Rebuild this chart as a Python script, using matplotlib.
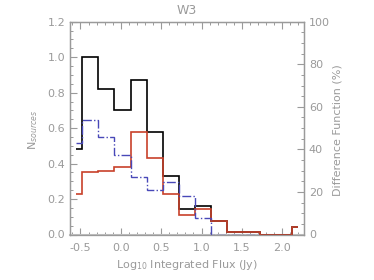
import matplotlib
matplotlib.use("Agg")
import matplotlib.pyplot as plt
import numpy as np
from matplotlib.ticker import MultipleLocator

# bin edges in log10 flux (Jy)
edges = [-0.55, -0.48, -0.28, -0.08, 0.12, 0.32, 0.52, 0.72, 0.92, 1.12,
         1.32, 1.52, 1.72, 1.92, 2.12, 2.2]

# N_sources histograms
black_vals = [0.48, 1.0, 0.82, 0.70, 0.87, 0.58, 0.33, 0.145, 0.16, 0.078,
              0.015, 0.015, 0.0, 0.0, 0.044]
red_vals = [0.23, 0.35, 0.36, 0.38, 0.58, 0.43, 0.23, 0.11, 0.145, 0.078,
            0.015, 0.015, 0.0, 0.0, 0.044]

# difference function (%), stops at 1.72
blue_vals = [43, 54, 46, 37.5, 27, 21, 24.5, 18.2, 7.9, 0, 0, 0]

gray = "#9a9a9a"
fs = 8

fig = plt.figure(figsize=(3.74, 2.80), dpi=100)
ax = fig.add_axes([70/374, 1-234.5/280, 234/374, 212.8/280])
ax2 = ax.twinx()

ax.stairs(black_vals, edges, baseline=None, color="black", lw=1.2, zorder=3)
ax.stairs(red_vals, edges, baseline=None, color="#c8412a", lw=1.2, zorder=4)
ax2.stairs(blue_vals, edges[:len(blue_vals)+1], baseline=None,
           color="#4848b8", lw=1.0, ls="-.")

ax.set_xlim(-0.63, 2.27)
ax.set_ylim(0, 1.2)
ax2.set_ylim(0, 100)

ax.xaxis.set_major_locator(MultipleLocator(0.5))
ax.xaxis.set_minor_locator(MultipleLocator(0.1))
ax.yaxis.set_major_locator(MultipleLocator(0.2))
ax.yaxis.set_minor_locator(MultipleLocator(0.05))
ax2.yaxis.set_major_locator(MultipleLocator(20))
ax2.yaxis.set_minor_locator(MultipleLocator(5))
ax.yaxis.set_major_formatter(plt.FormatStrFormatter("%.1f"))
ax.xaxis.set_major_formatter(plt.FormatStrFormatter("%.1f"))

for a in (ax, ax2):
    for s in a.spines.values():
        s.set_color(gray)
        s.set_linewidth(0.9)
ax.spines["bottom"].set_linewidth(1.5)
ax.spines["bottom"].set_color("#c0c0c0")

ax.tick_params(axis="both", which="both", direction="in", colors=gray,
               labelsize=fs, top=True, right=False)
ax.tick_params(axis="both", which="major", length=5, width=0.8)
ax.tick_params(axis="both", which="minor", length=2.5, width=0.7)
ax.tick_params(axis="x", which="major", pad=6)
ax2.tick_params(axis="y", which="both", direction="in", colors=gray,
                labelsize=fs)
ax2.tick_params(axis="y", which="major", length=5, width=0.8)
ax2.tick_params(axis="y", which="minor", length=2.5, width=0.7)

ax.set_xlabel("Log$_{10}$ Integrated Flux (Jy)", fontsize=fs, color=gray)
ax.xaxis.set_label_coords(0.5, -0.145)
ax.xaxis.label.set_va("center")
ax.set_ylabel("N$_{sources}$", fontsize=fs, color=gray)
ax.yaxis.set_label_coords(-0.158, 0.49)
ax.yaxis.label.set_va("center")
ax2.set_ylabel("Difference Function (%)", fontsize=fs, color=gray)
ax2.yaxis.set_label_coords(1.145, 0.49)
ax2.yaxis.label.set_va("center")

fig.text(187/374, 1-10/280, "W3", ha="center", va="center",
         fontsize=fs+1, color=gray)

fig.savefig("out.png", dpi=100)
